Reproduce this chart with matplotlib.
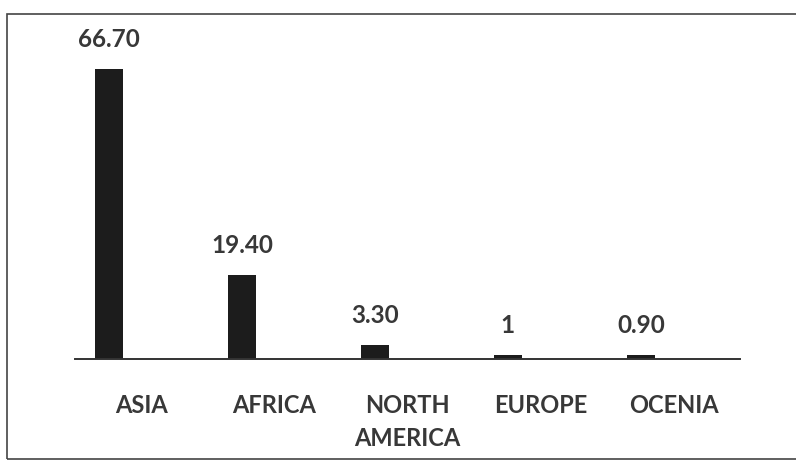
import matplotlib
matplotlib.use("Agg")
import matplotlib.pyplot as plt
import numpy as np
from matplotlib.patches import Rectangle

categories = ["ASIA", "AFRICA", "NORTH\nAMERICA", "EUROPE", "OCENIA"]
values = [66.70, 19.40, 3.30, 1.0, 0.90]
value_labels = ["66.70", "19.40", "3.30", "1", "0.90"]

plt.rcParams['font.family'] = ['Lato', 'DejaVu Sans']

W, H = 796, 463
fig = plt.figure(figsize=(W/100, H/100), dpi=100)
fig.patch.set_facecolor("white")

# outer frame
fig.patches.append(Rectangle((7/W, (H-459)/H), (W+10-7)/W, (459-14)/H,
                             transform=fig.transFigure, fill=False,
                             edgecolor="#444444", linewidth=1.2))

ax = fig.add_axes([75/W, (H-359)/H, (740-75)/W, (359-40)/H])
x = np.arange(len(categories))
offset = -0.245
bars = ax.bar(x + offset, values, width=0.21, color="#1c1c1c")
ax.set_xlim(-0.5, 4.5)
ax.set_ylim(0, 73.4)

for xi, v, lab in zip(x, values, value_labels):
    ax.annotate(lab, (xi + offset, v), xytext=(0, 13), textcoords="offset points",
                ha="center", va="bottom", fontsize=17.5, color="#383838",
                fontweight="bold")

ax.set_xticks(x)
ax.set_xticklabels(categories, fontsize=17, color="#383838", linespacing=1.55,
                   fontweight="bold")
ax.tick_params(axis="x", length=0, pad=25)
ax.set_yticks([])
for s in ["top", "right", "left"]:
    ax.spines[s].set_visible(False)
ax.spines["bottom"].set_color("#333333")
ax.spines["bottom"].set_linewidth(1.4)
ax.patch.set_alpha(0)

fig.savefig("out.png", dpi=100)
